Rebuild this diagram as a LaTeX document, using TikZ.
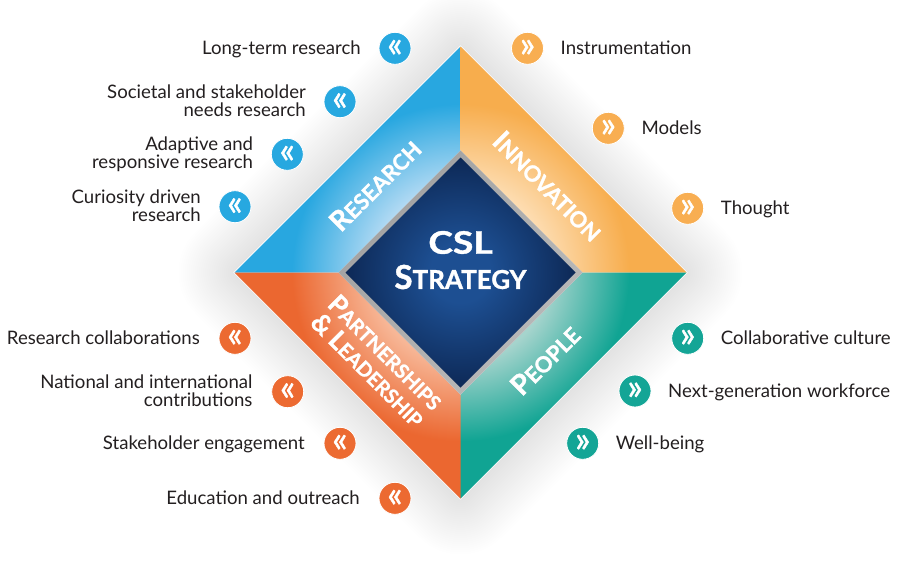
\documentclass[tikz,border=0pt]{standalone}
\usepackage{fontspec}
\setmainfont{Lato}
\newfontfamily\heavy{Lato}[UprightFeatures={FakeBold=1.2},BoldFeatures={FakeBold=1.2}]
\usetikzlibrary{calc}
\definecolor{resdark}{HTML}{28A7E0}
\definecolor{reslight}{HTML}{B0D9F3}
\definecolor{innodark}{HTML}{F7AD4D}
\definecolor{innolight}{HTML}{FDDCB0}
\definecolor{peopdark}{HTML}{10A493}
\definecolor{peoplight}{HTML}{A6D4CD}
\definecolor{partdark}{HTML}{EB6730}
\definecolor{partlight}{HTML}{F7B797}
\definecolor{navyout}{HTML}{0C2652}
\definecolor{navyin}{HTML}{1D4F92}
\definecolor{txt}{HTML}{231F20}
\definecolor{cblue}{HTML}{27A8E0}
\definecolor{corange}{HTML}{F8AE52}
\definecolor{cteal}{HTML}{14A596}
\definecolor{cred}{HTML}{EC6A31}
\pgfdeclareradialshading{resshade}{\pgfpoint{0bp}{0bp}}{color(0bp)=(reslight); color(88bp)=(reslight); color(168bp)=(resdark); color(240bp)=(resdark)}
\pgfdeclareradialshading{innoshade}{\pgfpoint{0bp}{0bp}}{color(0bp)=(innolight); color(88bp)=(innolight); color(168bp)=(innodark); color(240bp)=(innodark)}
\pgfdeclareradialshading{peopshade}{\pgfpoint{0bp}{0bp}}{color(0bp)=(peoplight); color(88bp)=(peoplight); color(168bp)=(peopdark); color(240bp)=(peopdark)}
\pgfdeclareradialshading{partshade}{\pgfpoint{0bp}{0bp}}{color(0bp)=(partlight); color(88bp)=(partlight); color(168bp)=(partdark); color(240bp)=(partdark)}
\pgfdeclareradialshading{navyshade}{\pgfpoint{0bp}{0bp}}{color(0bp)=(navyin); color(30bp)=(navyin); color(120bp)=(navyout); color(125bp)=(navyout)}
\newcommand\bigsmall[2]{{\fontsize{28}{28}\selectfont #1}{\fontsize{22}{22}\selectfont #2}}
\newcommand\bigsmallP[2]{{\fontsize{26}{26}\selectfont #1}{\fontsize{20}{20}\selectfont #2}}
\begin{document}
\begin{tikzpicture}[x=1pt,y=-1pt,
  bul/.style={circle,minimum size=32pt,inner sep=0pt,text=white,draw=white,line width=0.8pt,font=\heavy\fontsize{36}{36}\selectfont},
  ltxt/.style={align=right,inner sep=0pt,text=txt,font=\fontsize{18.6}{18}\selectfont},
  rtxt/.style={align=left,inner sep=0pt,text=txt,font=\fontsize{18.6}{18}\selectfont},
  qlab/.style={text=white,font=\heavy\bfseries,inner sep=0pt},
  ctext/.style={text=white,font=\heavy\bfseries,inner sep=0pt}]
\useasboundingbox (0,0) rectangle (900,560);
\fill[white] (0,0) rectangle (900,560);
\coordinate (C) at (460.5,272.5);
% soft shadow
\foreach \i in {1,...,30}{
  \pgfmathsetmacro\rr{222+2.8*\i}
  \pgfmathsetmacro\rc{4+1.8*\i}
  \fill[black,opacity=0.0045,rounded corners=\rc pt] ($(C)+(-\rr,0)$) -- ($(C)+(0,-\rr)$) -- ($(C)+(\rr,0)$) -- ($(C)+(0,\rr)$) -- cycle;
}
% outer and inner vertices
\coordinate (OL) at (234.5,272.5);
\coordinate (OT) at (460.5,46.5);
\coordinate (OR) at (686.5,272.5);
\coordinate (OB) at (460.5,498.5);
\coordinate (IL) at (338.5,272.5);
\coordinate (IT) at (460.5,150.5);
\coordinate (IR) at (582.5,272.5);
\coordinate (IB) at (460.5,394.5);
\fill[white] ($(OL)+(-1.2,0)$) -- ($(OT)+(0,-1.2)$) -- ($(OR)+(1.2,0)$) -- ($(OB)+(0,1.2)$) -- cycle;
% quadrants
\begin{scope}
\clip (OL) -- (OT) -- (IT) -- (IL) -- cycle;
\pgftext[at=\pgfpointanchor{C}{center}]{\pgfuseshading{resshade}}
\end{scope}
\begin{scope}
\clip (OT) -- (OR) -- (IR) -- (IT) -- cycle;
\pgftext[at=\pgfpointanchor{C}{center}]{\pgfuseshading{innoshade}}
\end{scope}
\begin{scope}
\clip (OR) -- (OB) -- (IB) -- (IR) -- cycle;
\pgftext[at=\pgfpointanchor{C}{center}]{\pgfuseshading{peopshade}}
\end{scope}
\begin{scope}
\clip (OB) -- (OL) -- (IL) -- (IB) -- cycle;
\pgftext[at=\pgfpointanchor{C}{center}]{\pgfuseshading{partshade}}
\end{scope}
% inner silver frame
\shade[left color=black!42,right color=black!22,shading angle=45] (IL) -- (IT) -- (IR) -- (IB) -- cycle;
\begin{scope}
\clip (345.5,272.5) -- (460.5,157.5) -- (575.5,272.5) -- (460.5,387.5) -- cycle;
\pgftext[at=\pgfpointanchor{C}{center}]{\pgfuseshading{navyshade}}
\end{scope}
% centre text
\node[ctext] (csl) at (460.5,242.5) {\scalebox{1.2}[1]{\fontsize{31}{31}\selectfont CSL}};
\node[ctext] (strat) at (460.5,277) {{\fontsize{33}{33}\selectfont S}{\fontsize{26}{26}\selectfont TRATEGY}};
% quadrant labels
\node[qlab,rotate=45] (lres) at (375,185) {\bigsmall{R}{ESEARCH}};
\node[qlab,rotate=-45] (linn) at (548,186) {\bigsmall{I}{NNOVATION}};
\node[qlab,rotate=45] (lpeo) at (545,360) {\bigsmall{P}{EOPLE}};
\node[qlab,rotate=-45,align=center] (lpar) at (377,361) {\bigsmallP{P}{ARTNERSHIPS}\\[5pt]\bigsmallP{\&\ L}{EADERSHIP}};
% Research items
\node[bul,fill=cblue] (r1) at (395,48.3) {«};
\node[bul,fill=cblue] (r2) at (340,101.7) {«};
\node[bul,fill=cblue] (r3) at (287.3,154.3) {«};
\node[bul,fill=cblue] (r4) at (235,206.7) {«};
\node[ltxt,anchor=base east] (tr1) at ($(r1.center)+(-34,6.5)$) {Long-term research};
\node[ltxt,anchor=north east] (tr2) at ($(r2.center)+(-34,-17.5)$) {Societal and stakeholder\\needs research};
\node[ltxt,anchor=north east] (tr3) at ($(r3.center)+(-34,-17.5)$) {Adaptive and\\responsive research};
\node[ltxt,anchor=north east] (tr4) at ($(r4.center)+(-34,-17.5)$) {Curiosity driven\\research};
% Innovation items
\node[bul,fill=corange] (i1) at (527.5,48.3) {»};
\node[bul,fill=corange] (i2) at (608.3,128.3) {»};
\node[bul,fill=corange] (i3) at (687.7,208.3) {»};
\node[rtxt,anchor=base west] (ti1) at ($(i1.center)+(33,6.5)$) {Instrumentation};
\node[rtxt,anchor=base west] (ti2) at ($(i2.center)+(33,6.5)$) {Models};
\node[rtxt,anchor=base west] (ti3) at ($(i3.center)+(33,6.5)$) {Thought};
% People items
\node[bul,fill=cteal] (p1) at (687.7,338.3) {»};
\node[bul,fill=cteal] (p2) at (635,391) {»};
\node[bul,fill=cteal] (p3) at (582.7,443.3) {»};
\node[rtxt,anchor=base west] (tp1) at ($(p1.center)+(33,6.5)$) {Collaborative culture};
\node[rtxt,anchor=base west] (tp2) at ($(p2.center)+(33,6.5)$) {Next-generation workforce};
\node[rtxt,anchor=base west] (tp3) at ($(p3.center)+(33,6.5)$) {Well-being};
% Partnerships items
\node[bul,fill=cred] (l1) at (235,338.3) {«};
\node[bul,fill=cred] (l2) at (287.7,391.7) {«};
\node[bul,fill=cred] (l3) at (340,443.3) {«};
\node[bul,fill=cred] (l4) at (395,498.3) {«};
\node[ltxt,anchor=base east] (tl1) at ($(l1.center)+(-35,6.5)$) {Research collaborations};
\node[ltxt,anchor=north east] (tl2) at ($(l2.center)+(-35,-17.5)$) {National and international\\contributions};
\node[ltxt,anchor=base east] (tl3) at ($(l3.center)+(-35,6.5)$) {Stakeholder engagement};
\node[ltxt,anchor=base east] (tl4) at ($(l4.center)+(-35,6.5)$) {Education and outreach};
\end{tikzpicture}
\end{document}
